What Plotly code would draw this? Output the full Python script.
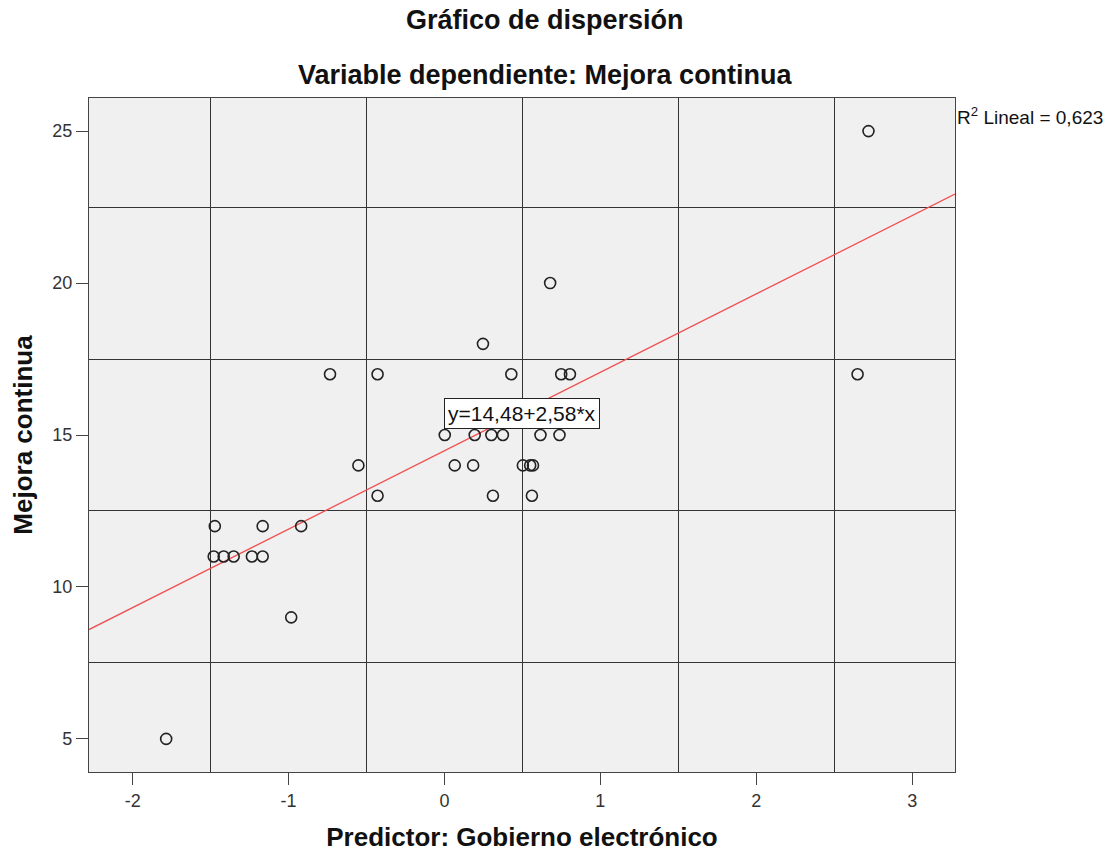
import plotly.graph_objects as go

# Data
gobierno = [-1.785,
            -1.473, -1.166, -0.919,
            -1.480, -1.416, -1.352, -1.235, -1.166,
            -0.983,
            -0.734, -0.429, -0.552, -0.429,
            0.247, 0.429, 0.749, 0.805,
            0.002, 0.194, 0.301, 0.375, 0.616, 0.738,
            0.066, 0.184, 0.503, 0.550, 0.568,
            0.311, 0.561,
            0.678, 2.72, 2.65]
mejora = [5,
          12, 12, 12,
          11, 11, 11, 11, 11,
          9,
          17, 17, 14, 13,
          18, 17, 17, 17,
          15, 15, 15, 15, 15, 15,
          14, 14, 14, 14, 14,
          13, 13,
          20, 25, 17]

x_tick_vals = [-2, -1, 0, 1, 2, 3]
x_tick_text = ["-2", "-1", "0", "1", "2", "3"]
y_tick_vals = [5, 10, 15, 20, 25]
y_tick_text = ["5", "10", "15", "20", "25"]

intercept = 14.48
slope = 2.58
r2_text = "R<sup>2</sup> Lineal = 0,623"
eq_text = "y=14,48+2,58*x"

x_range = [-2.28, 3.275]
y_range = [3.91, 26.09]
fit_x = x_range
fit_y = [intercept + slope * v for v in fit_x]

FONT = "Liberation Sans, Arial, sans-serif"

fig = go.Figure()
fig.add_trace(go.Scatter(
    x=fit_x, y=fit_y, mode="lines",
    line=dict(color="#f05050", width=1.3),
    hoverinfo="skip", showlegend=False, cliponaxis=True))
fig.add_trace(go.Scatter(
    x=gobierno, y=mejora, mode="markers",
    marker=dict(symbol="circle-open", size=11, color="#222222",
                line=dict(width=1.6, color="#222222")),
    showlegend=False))

axis_common = dict(
    showline=True, linecolor="#444444", linewidth=1.2, mirror=True,
    ticks="outside", ticklen=12, tickwidth=1.2, tickcolor="#444444",
    showgrid=False, zeroline=False, automargin=False,
    tickfont=dict(family=FONT, size=18, color="#333333"),
)

fig.update_layout(
    width=1113, height=852,
    margin=dict(l=89, r=158, t=98, b=80),
    paper_bgcolor="white", plot_bgcolor="#f0f0f0",
    font=dict(family=FONT, color="#111111"),
    xaxis=dict(range=x_range, tickmode="array", tickvals=x_tick_vals,
               ticktext=x_tick_text, **axis_common,
               minor=dict(tick0=0.5, dtick=1, showgrid=True,
                          gridcolor="#333333", gridwidth=1.3, ticks=""),
               title=dict(text="<b>Predictor: Gobierno electrónico</b>",
                          font=dict(family=FONT, size=26, color="#111111"),
                          standoff=22)),
    yaxis=dict(range=y_range, tickmode="array", tickvals=y_tick_vals,
               ticktext=y_tick_text, **axis_common,
               minor=dict(tick0=2.5, dtick=5, showgrid=True,
                          gridcolor="#333333", gridwidth=1.3, ticks=""),
               title=dict(text="<b>Mejora continua</b>",
                          font=dict(family=FONT, size=26, color="#111111"),
                          standoff=12)),
    annotations=[
        dict(text="<b>Gráfico de dispersión</b>", xref="paper", yref="paper",
             x=0.5266, y=1, yshift=78, xanchor="center", yanchor="middle",
             showarrow=False, font=dict(family=FONT, size=27, color="#111111")),
        dict(text="<b>Variable dependiente: Mejora continua</b>", xref="paper", yref="paper",
             x=0.5266, y=1, yshift=23, xanchor="center", yanchor="middle",
             showarrow=False, font=dict(family=FONT, size=27, color="#111111")),
        dict(text=r2_text, xref="paper", yref="paper",
             x=1.0, y=0.973, xshift=0, xanchor="left", yanchor="middle",
             showarrow=False, font=dict(family=FONT, size=19, color="#111111")),
        dict(text=eq_text, xref="x", yref="y", x=0.50, y=15.72,
             xanchor="center", yanchor="middle", showarrow=False,
             bgcolor="white", bordercolor="#222222", borderwidth=1, borderpad=3,
             font=dict(family=FONT, size=21, color="#111111")),
    ],
)

fig.write_html("out.html")
